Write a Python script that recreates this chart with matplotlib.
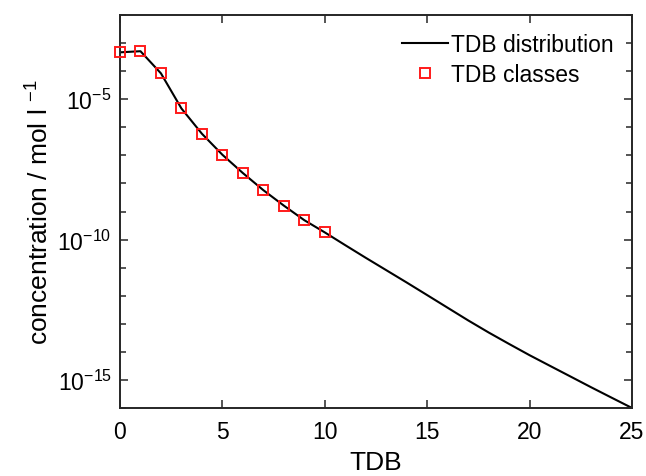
import matplotlib
matplotlib.use("Agg")
import matplotlib.pyplot as plt
from matplotlib.ticker import FixedLocator, NullFormatter

plt.rcParams['font.family'] = ['Liberation Sans', 'DejaVu Sans']
plt.rcParams['mathtext.fontset'] = 'custom'
plt.rcParams['mathtext.rm'] = 'Liberation Sans'
plt.rcParams['mathtext.it'] = 'Liberation Sans:italic'
plt.rcParams['mathtext.default'] = 'regular'

# TDB classes (markers)
class_x = [0, 1, 2, 3, 4, 5, 6, 7, 8, 9, 10]
class_c = [4.68e-4, 5.13e-4, 8.32e-5, 4.68e-6, 5.89e-7, 1.05e-7,
           2.34e-8, 5.75e-9, 1.62e-9, 4.90e-10, 1.80e-10]

# TDB distribution (line)
dist_x = list(range(0, 26))
dist_c = [4.68e-4, 5.13e-4, 8.32e-5, 4.68e-6, 5.89e-7, 1.05e-7,
          2.34e-8, 5.75e-9, 1.62e-9, 4.90e-10, 1.80e-10,
          6.31e-11, 2.24e-11, 8.13e-12, 2.95e-12, 1.05e-12,
          3.72e-13, 1.32e-13, 4.90e-14, 1.91e-14, 7.59e-15,
          3.16e-15, 1.32e-15, 5.50e-16, 2.34e-16, 1.00e-16]

fig = plt.figure(figsize=(6.46, 4.77), dpi=100)
ax = fig.add_axes([120/646, 1-409/477, 512/646, 393/477])

ax.plot(dist_x, dist_c, color='black', lw=1.5, label='TDB distribution', zorder=2)
ax.plot(class_x, class_c, ls='none', marker='s', ms=7.5, mfc='none',
        mec='#ff1a1a', mew=1.4, label='TDB classes', zorder=3, clip_on=False)

ax.set_yscale('log')
ax.set_xlim(0, 25)
ax.set_ylim(1e-16, 1e-2)
ax.set_xticks([0, 5, 10, 15, 20, 25])
ax.yaxis.set_major_locator(FixedLocator([1e-15, 1e-10, 1e-5]))
ax.yaxis.set_minor_locator(FixedLocator([10.0**k for k in range(-16, -1)]))
ax.yaxis.set_minor_formatter(NullFormatter())
ax.set_yticklabels(['10$^{-15}$', '10$^{-10}$', '10$^{-5}$'])

ax.tick_params(which='both', direction='in', top=True, right=True,
               labelsize=16.5, width=1.1, color='#262626')
ax.tick_params(which='major', length=5.5)
ax.tick_params(axis='x', which='major', pad=9)
ax.tick_params(axis='y', which='major', pad=6)
ax.tick_params(which='minor', length=4)
for s in ax.spines.values():
    s.set_linewidth(1.4)
    s.set_color('#262626')

ax.set_xlabel('TDB', fontsize=19, labelpad=5)
ax.set_ylabel('concentration / mol l $^{-1}$', fontsize=19, labelpad=3)

ax.legend(loc='upper right', frameon=False, fontsize=16.5, handlelength=2.0,
          handletextpad=0.15, borderaxespad=0.4, labelspacing=0.3,
          bbox_to_anchor=(1.0, 1.0))

fig.savefig('out.png', dpi=100)
